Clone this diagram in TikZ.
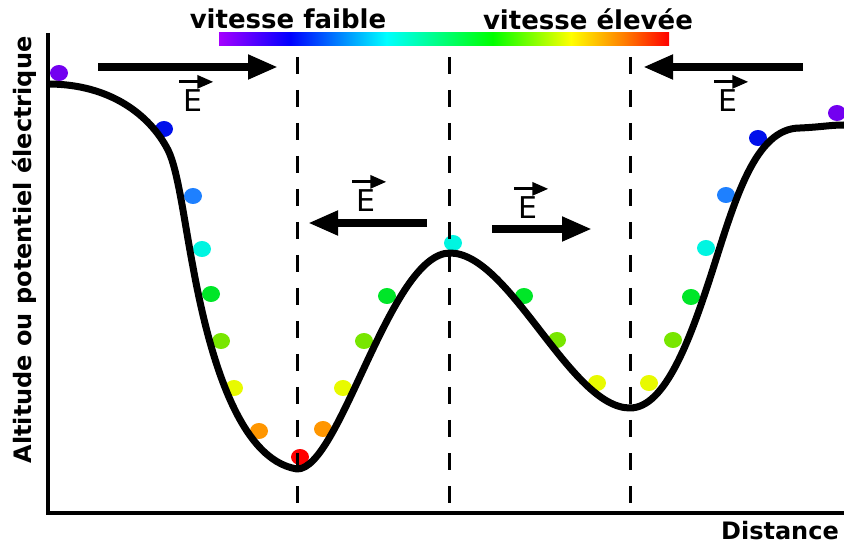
\documentclass[tikz,border=0pt]{standalone}
\usepackage{fontspec}
\setmainfont{DejaVu Sans}
\usetikzlibrary{arrows.meta}
\definecolor{barviolet}{RGB}{165,0,255}
\definecolor{dviolet}{RGB}{115,0,240}
\definecolor{dblue}{RGB}{0,16,235}
\definecolor{dsky}{RGB}{30,128,255}
\definecolor{dcyan}{RGB}{0,245,225}
\definecolor{dgreen}{RGB}{0,230,40}
\definecolor{dlime}{RGB}{120,230,0}
\definecolor{dyellow}{RGB}{232,250,0}
\definecolor{dorange}{RGB}{255,150,0}
\definecolor{dred}{RGB}{255,0,0}
\pgfdeclarehorizontalshading{speedbar}{100bp}{color(0bp)=(barviolet); color(25bp)=(barviolet);
  color(32.9bp)=(blue); color(43.6bp)=(cyan); color(55.4bp)=(green); color(64.1bp)=(yellow);
  color(69.9bp)=(orange); color(75bp)=(red); color(100bp)=(red)}

\begin{document}
\begin{tikzpicture}[x=1pt, y=-1pt,
  axis/.style={line width=4pt},
  guide/.style={line width=3pt, dash pattern=on 17pt off 16pt},
  field/.style={line width=8pt, -{Triangle[length=30pt, width=23pt]}},
  vecE/.style={line width=3pt, -{Triangle[length=16pt, width=13pt]}},
  elabel/.style={inner sep=0pt, font=\fontsize{30}{32}\selectfont},
  title/.style={inner sep=0pt, font=\fontsize{26}{28}\selectfont\bfseries}
]
\useasboundingbox (0,0) rectangle (844,545);

% speed colour bar
\shade[shading=speedbar] (219,33) rectangle (669,46);
\node[title] (slow) at (288,19) {vitesse faible};
\node[title] (fast) at (588,19) {vitesse élevée};

% axes
\draw[axis] (48,33) -- (48,513) -- (844,513);
\node[title, font=\fontsize{24}{26}\selectfont\bfseries, rotate=90] (ylabel) at (24,250)
  {Altitude ou potentiel électrique};
\node[title, font=\fontsize{24}{26}\selectfont\bfseries, anchor=east] (xlabel) at (839,531) {Distance};

% balls
\foreach \x/\y/\c in {59/73/dviolet, 164/129/dblue, 193/196/dsky, 202/249/dcyan,
    211/294/dgreen, 221/341/dlime, 234/388/dyellow, 259/431/dorange, 300/457/dred,
    323/429/dorange, 343/388/dyellow, 364/341/dlime, 387/296/dgreen, 453/243/dcyan,
    524/296/dgreen, 557/340/dlime, 597/383/dyellow, 649/383/dyellow, 673/340/dlime,
    691/297/dgreen, 706/248/dcyan, 726/195/dsky, 758/138/dblue, 837/113/dviolet}
  \fill[\c] (\x,\y) ellipse [x radius=9pt, y radius=8pt];

% dashed guides
\foreach \x in {297, 449, 630}
  \draw[guide] (\x,57) -- (\x,515);

% potential curve
\draw[line width=7pt, line join=round]
  (48,84) .. controls (110,84) and (150,115) .. (168,150)
  .. controls (178,170) and (184,220) .. (193,267)
  .. controls (210,360) and (240,460) .. (297,469)
  .. controls (340,470) and (390,253) .. (450,253)
  .. controls (510,253) and (570,408) .. (630,408)
  .. controls (665,408) and (690,340) .. (712,272)
  .. controls (735,200) and (755,128) .. (800,128)
  .. controls (822,127) and (830,125) .. (844,125);

% field arrows
\draw[field] (98,67) -- (278,67);
\draw[field] (803,67) -- (643,67);
\draw[field] (427,223) -- (308,223);
\draw[field] (492,229) -- (592,229);

% field labels
\node[elabel] (etl) at (193,101) {E};
\node[elabel] (etr) at (728,101) {E};
\node[elabel] (eml) at (366,201) {E};
\node[elabel] (emr) at (528,208) {E};
\foreach \e in {etl, etr, eml, emr}
  \draw[vecE] ([xshift=-4pt, yshift=8pt]\e.north west) -- ++(34,0);
\end{tikzpicture}
\end{document}
